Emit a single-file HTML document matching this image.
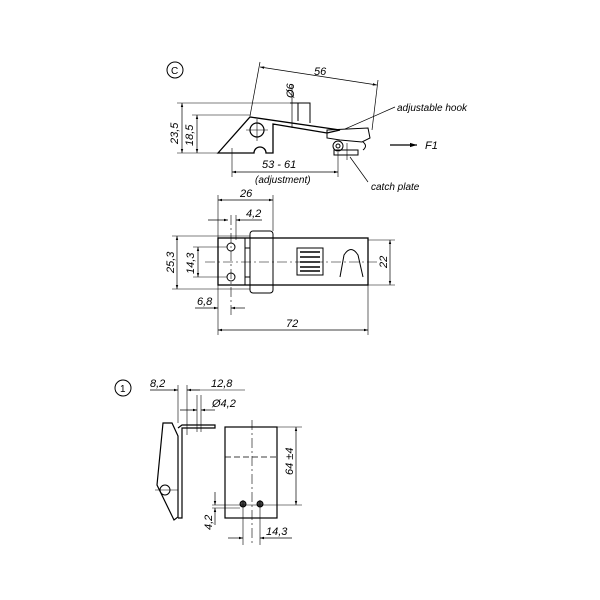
<!DOCTYPE html>
<html><head><meta charset="utf-8"><style>
html,body{margin:0;padding:0;background:#fff}
svg{display:block}
text{font-family:"Liberation Sans",sans-serif;font-style:italic;font-size:11px;fill:#000}
</style></head><body>
<svg width="600" height="600" viewBox="0 0 600 600" xmlns="http://www.w3.org/2000/svg">
<defs><marker id="a" viewBox="0 0 10 10" refX="10" refY="5" markerWidth="6" markerHeight="6" orient="auto-start-reverse"><path d="M0,2 L10,5 L0,8z" fill="#000"/></marker></defs>
<g stroke="#000" fill="none" stroke-width="1">
<!-- View C -->
<circle cx="175" cy="70" r="8"/>
<line x1="260" y1="67" x2="377" y2="85" marker-start="url(#a)" marker-end="url(#a)" stroke-width="0.7"/>
<line x1="260" y1="62" x2="250" y2="116" stroke-width="0.7"/>
<line x1="378" y1="80" x2="372" y2="130" stroke-width="0.7"/>
<line x1="292" y1="85" x2="292" y2="128" stroke-width="0.7"/>
<path d="M218,153 L250,117 L340,130 L327,133 L273,124 L273,153 L266,153 A6,6 0 0,0 254,153 L218,153 Z" stroke-width="1.3"/>
<circle cx="257" cy="130" r="7" stroke-width="1.2"/>
<line x1="246" y1="130" x2="268" y2="130" stroke-width="0.6"/>
<line x1="257" y1="119" x2="257" y2="141" stroke-width="0.6"/>
<path d="M290,103 L310,103 L310,123 M298,103 L298,121" stroke-width="1"/>
<path d="M327,130 L368,128 L370,138 L362,142 L340,140 L327,138 Z" stroke-width="1"/>
<circle cx="338" cy="146" r="5"/><circle cx="338" cy="146" r="2"/>
<rect x="334" y="150" width="24" height="5"/>
<line x1="347" y1="143" x2="347" y2="160" stroke-width="0.6"/>
<path d="M363,142 q5,4 0,8" />
<line x1="182" y1="103" x2="182" y2="153" marker-start="url(#a)" marker-end="url(#a)" stroke-width="0.7"/>
<line x1="197" y1="115" x2="197" y2="153" marker-start="url(#a)" marker-end="url(#a)" stroke-width="0.7"/>
<line x1="177" y1="103" x2="290" y2="103" stroke-width="0.6"/>
<line x1="192" y1="115" x2="250" y2="115" stroke-width="0.6"/>
<line x1="177" y1="153" x2="218" y2="153" stroke-width="0.6"/>
<line x1="232" y1="148" x2="232" y2="177" stroke-width="0.6"/>
<line x1="338" y1="152" x2="338" y2="177" stroke-width="0.6"/>
<line x1="232" y1="172" x2="338" y2="172" marker-start="url(#a)" marker-end="url(#a)" stroke-width="0.7"/>
<line x1="390" y1="145" x2="417" y2="145" marker-end="url(#a)" stroke-width="1.2"/>
<line x1="395" y1="107" x2="345" y2="129" stroke-width="0.7"/>
<line x1="368" y1="182" x2="350" y2="157" stroke-width="0.7"/>
<!-- Plan view -->
<rect x="218" y="238" width="150" height="47" stroke-width="1.3"/>
<rect x="245" y="238" width="28" height="47" stroke-width="1"/>
<rect x="250" y="231" width="23" height="62" rx="3"/>
<line x1="245" y1="248" x2="250" y2="248"/><line x1="245" y1="277" x2="250" y2="277"/>
<circle cx="231" cy="247" r="4"/><circle cx="231" cy="277" r="4"/>
<rect x="297" y="248" width="26" height="27"/>
<path d="M300,252 h20 M300,257 h20 M300,262 h20 M300,267 h20 M300,271 h20" stroke-width="1.5"/>
<path d="M340,277 L344,255 Q351,244 358,255 L363,277" />
<line x1="205" y1="262" x2="380" y2="262" stroke-dasharray="10,3,2,3" stroke-width="0.6"/>
<line x1="231" y1="215" x2="231" y2="315" stroke-dasharray="10,3,2,3" stroke-width="0.6"/>
<line x1="218" y1="195" x2="218" y2="238" stroke-width="0.6"/>
<line x1="273" y1="195" x2="273" y2="231" stroke-width="0.6"/>
<line x1="218" y1="200" x2="273" y2="200" marker-start="url(#a)" marker-end="url(#a)" stroke-width="0.7"/>
<line x1="236" y1="215" x2="236" y2="240" stroke-width="0.6"/>
<line x1="208" y1="220" x2="228" y2="220" marker-end="url(#a)" stroke-width="0.7"/>
<line x1="262" y1="220" x2="236" y2="220" marker-end="url(#a)" stroke-width="0.7"/>
<line x1="172" y1="236" x2="250" y2="236" stroke-width="0.6"/>
<line x1="172" y1="289" x2="250" y2="289" stroke-width="0.6"/>
<line x1="177" y1="236" x2="177" y2="289" marker-start="url(#a)" marker-end="url(#a)" stroke-width="0.7"/>
<line x1="193" y1="247" x2="227" y2="247" stroke-width="0.6"/>
<line x1="193" y1="277" x2="227" y2="277" stroke-width="0.6"/>
<line x1="198" y1="247" x2="198" y2="277" marker-start="url(#a)" marker-end="url(#a)" stroke-width="0.7"/>
<line x1="368" y1="240" x2="395" y2="240" stroke-width="0.6"/>
<line x1="368" y1="285" x2="395" y2="285" stroke-width="0.6"/>
<line x1="390" y1="240" x2="390" y2="285" marker-start="url(#a)" marker-end="url(#a)" stroke-width="0.7"/>
<line x1="195" y1="308" x2="218" y2="308" marker-end="url(#a)" stroke-width="0.7"/>
<line x1="245" y1="308" x2="231" y2="308" marker-end="url(#a)" stroke-width="0.7"/>
<line x1="218" y1="285" x2="218" y2="335" stroke-width="0.6"/>
<line x1="368" y1="285" x2="368" y2="335" stroke-width="0.6"/>
<line x1="218" y1="330" x2="368" y2="330" marker-start="url(#a)" marker-end="url(#a)" stroke-width="0.7"/>
<!-- View 1 -->
<circle cx="123" cy="388" r="8"/>
<path d="M163,423 L172,423 L178,436 L178,517 L174,520 L157,485 Z" stroke-width="1.2"/>
<path d="M178,428 L182,425 L215,425 L215,428 L182,428 L182,518 L178,518" stroke-width="1.2"/>
<circle cx="165" cy="490" r="5"/>
<line x1="155" y1="490" x2="178" y2="490" stroke-width="0.6"/>
<line x1="178" y1="385" x2="178" y2="423" stroke-width="0.6"/>
<line x1="187" y1="385" x2="187" y2="435" stroke-width="0.6"/>
<line x1="150" y1="390" x2="178" y2="390" marker-end="url(#a)" stroke-width="0.7"/>
<line x1="200" y1="390" x2="187" y2="390" marker-end="url(#a)" stroke-width="0.7"/>
<line x1="197" y1="395" x2="197" y2="432" stroke-width="0.6"/>
<line x1="201" y1="395" x2="201" y2="432" stroke-width="0.6"/>
<line x1="180" y1="410" x2="197" y2="410" marker-end="url(#a)" stroke-width="0.7"/>
<line x1="215" y1="410" x2="201" y2="410" marker-end="url(#a)" stroke-width="0.7"/>
<line x1="187" y1="390" x2="245" y2="390" stroke-width="0.6"/>
<rect x="225" y="427" width="52" height="91" stroke-width="1.2"/>
<line x1="225" y1="457" x2="277" y2="457" stroke-dasharray="6,3" stroke-width="0.8"/>
<line x1="252" y1="420" x2="252" y2="545" stroke-dasharray="10,3,2,3" stroke-width="0.6"/>
<circle cx="243" cy="504" r="3" fill="#444"/><circle cx="260" cy="504" r="3" fill="#444"/>
<line x1="277" y1="427" x2="302" y2="427" stroke-width="0.6"/>
<line x1="212" y1="505" x2="302" y2="505" stroke-width="0.6"/>
<line x1="296" y1="427" x2="296" y2="505" marker-start="url(#a)" marker-end="url(#a)" stroke-width="0.7"/>
<line x1="212" y1="508" x2="240" y2="508" stroke-width="0.6"/>
<line x1="215" y1="492" x2="215" y2="505" marker-end="url(#a)" stroke-width="0.7"/>
<line x1="215" y1="525" x2="215" y2="508" marker-end="url(#a)" stroke-width="0.7"/>
<line x1="243" y1="500" x2="243" y2="545" stroke-width="0.6"/>
<line x1="260" y1="500" x2="260" y2="545" stroke-width="0.6"/>
<line x1="228" y1="538" x2="243" y2="538" marker-end="url(#a)" stroke-width="0.7"/>
<line x1="292" y1="538" x2="260" y2="538" marker-end="url(#a)" stroke-width="0.7"/>
</g>
<text x="171" y="74" style="font-style:normal;font-size:10px">C</text>
<text x="120" y="392" style="font-style:normal;font-size:10px">1</text>
<text x="314" y="75">56</text>
<text x="294" y="98" transform="rotate(-90 294 98)">Ø6</text>
<text x="397" y="111" style="font-size:10px">adjustable hook</text>
<text x="425" y="149">F1</text>
<text x="371" y="190" style="font-size:10px">catch plate</text>
<text x="262" y="168">53 - 61</text>
<text x="255" y="183" style="font-size:10px">(adjustment)</text>
<text x="178" y="144" transform="rotate(-90 178 144)">23,5</text>
<text x="193" y="146" transform="rotate(-90 193 146)">18,5</text>
<text x="240" y="197">26</text>
<text x="246" y="217">4,2</text>
<text x="174" y="273" transform="rotate(-90 174 273)">25,3</text>
<text x="194" y="274" transform="rotate(-90 194 274)">14,3</text>
<text x="387" y="268" transform="rotate(-90 387 268)">22</text>
<text x="197" y="305">6,8</text>
<text x="286" y="327">72</text>
<text x="150" y="387">8,2</text>
<text x="211" y="387">12,8</text>
<text x="212" y="407">Ø4,2</text>
<text x="293" y="475" transform="rotate(-90 293 475)">64 ±4</text>
<text x="212" y="530" transform="rotate(-90 212 530)">4,2</text>
<text x="266" y="535">14,3</text>
</svg>
</body></html>
